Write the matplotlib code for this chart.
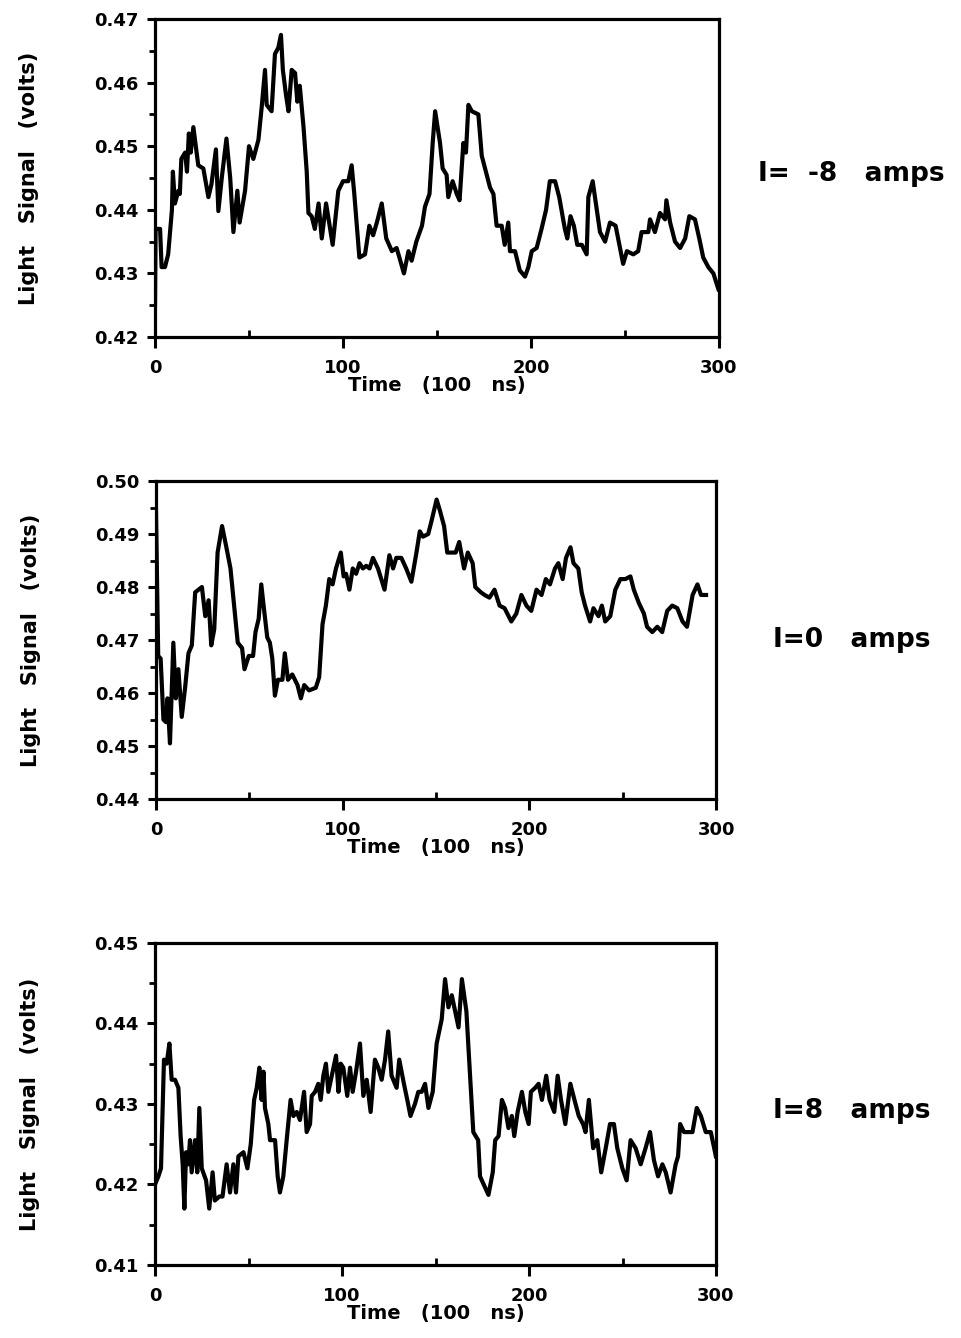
import matplotlib
matplotlib.use("Agg")
import matplotlib.pyplot as plt
from matplotlib.ticker import MultipleLocator, FormatStrFormatter

plt.rcParams["font.family"] = "DejaVu Sans"
plt.rcParams["font.weight"] = "bold"

# I = -8 amps
time_neg8 = [0, 0.3, 2.7, 3.5, 5.3, 7, 9, 9.5, 10.6, 12.4,
             13.2, 14, 16, 17, 18, 19, 20.4, 23, 25.7, 28.4,
             30, 32.4, 33.7, 35.5, 38, 40, 41.7, 43.8, 45, 47.9,
             50, 52.3, 55, 56.7, 58.5, 59.4, 62, 63.8, 65.6, 67,
             68, 69.7, 71, 72.7, 74.5, 75.7, 77, 79, 80.7, 81.6,
             83.3, 85, 87, 88.7, 91, 94.5, 97.5, 100, 102.8, 104.6,
             106, 108.7, 111.7, 114, 116, 118, 120.6, 123, 126, 128.5,
             130, 132.4, 134.8, 136.5, 139, 142, 143.6, 146, 147.7, 149,
             151.6, 153, 155.1, 156, 158.3, 160.5, 162, 164, 165.4, 166.7,
             168.5, 172, 173.8, 176, 178.2, 180, 181.7, 184.4, 186, 187.9,
             188.8, 191.5, 194, 196.8, 198.6, 200.4, 203, 205.6, 208, 210,
             212.8, 215, 218, 219.3, 221, 222.8, 224.6, 227, 229.6, 230.5,
             232.8, 235, 236.7, 239.4, 242, 245, 247.3, 249, 251, 254.4,
             257, 258.8, 262.4, 263.3, 265.9, 268.6, 271.3, 272, 274, 276.6,
             279.3, 282, 284.2, 287.2, 289.5, 291.6, 294.3, 297, 299.7]
signal_neg8 = [0.425, 0.437, 0.437, 0.431, 0.431, 0.433, 0.440, 0.446, 0.441, 0.443,
               0.4425, 0.448, 0.449, 0.446, 0.452, 0.449, 0.453, 0.447, 0.4465, 0.442,
               0.444, 0.4495, 0.4398, 0.445, 0.4512, 0.445, 0.4365, 0.443, 0.438, 0.443,
               0.450, 0.448, 0.451, 0.456, 0.462, 0.4565, 0.4555, 0.4645, 0.4655, 0.4675,
               0.462, 0.458, 0.4555, 0.462, 0.4615, 0.457, 0.4595, 0.453, 0.446, 0.4395,
               0.439, 0.437, 0.441, 0.4355, 0.441, 0.4345, 0.443, 0.4445, 0.4445, 0.447,
               0.4425, 0.4325, 0.433, 0.4375, 0.436, 0.438, 0.441, 0.4355, 0.4335, 0.434,
               0.4325, 0.430, 0.4335, 0.432, 0.435, 0.4375, 0.4405, 0.4425, 0.4505, 0.4555,
               0.4505, 0.4465, 0.4455, 0.442, 0.4445, 0.4425, 0.4415, 0.4505, 0.449, 0.4565,
               0.4555, 0.455, 0.4485, 0.446, 0.4435, 0.4425, 0.4375, 0.4375, 0.4345, 0.438,
               0.4335, 0.4335, 0.4305, 0.4295, 0.431, 0.4335, 0.434, 0.437, 0.440, 0.4445,
               0.4445, 0.442, 0.437, 0.4355, 0.439, 0.4375, 0.4345, 0.4345, 0.433, 0.442,
               0.4445, 0.440, 0.4365, 0.435, 0.438, 0.4375, 0.434, 0.4315, 0.4335, 0.433,
               0.4335, 0.4365, 0.4365, 0.4385, 0.4365, 0.4395, 0.4385, 0.4415, 0.438, 0.435,
               0.434, 0.4355, 0.439, 0.4385, 0.4355, 0.4325, 0.431, 0.430, 0.4275]

# I = 0 amps
time_zero = [0, 1.2, 2.5, 4, 5.4, 6.2, 7.5, 9.3, 10.6, 12,
             13.8, 15.6, 17.4, 19.2, 21, 22.8, 24.6, 26.4, 28.2, 29.6,
             31.2, 33, 35.4, 37.7, 39.9, 42, 43.8, 46.1, 47.4, 49.7,
             52, 53.3, 55, 56.4, 57.8, 59.6, 61, 62.3, 63.7, 65.3,
             67.7, 69, 70.7, 73, 75.8, 77.6, 79.4, 82, 85.6, 87.4,
             89.2, 91, 92.8, 94.6, 96.4, 99, 100.5, 101.8, 103.6, 105.4,
             107.2, 109, 110.8, 112.6, 114.4, 116.2, 118.9, 122.4, 125, 127,
             128.7, 131.4, 134, 136.8, 139.5, 141.3, 143, 145.8, 147.6, 150.3,
             152, 154.3, 156, 158.8, 160.5, 162.4, 165, 167, 169.6, 171,
             174, 176, 178.6, 181.3, 184, 186.7, 190.3, 193, 195.7, 198.4,
             201, 203.8, 206.5, 208.8, 211, 213.7, 215.5, 217.8, 219.6, 222,
             223.6, 226.2, 228, 229.8, 232.5, 234.3, 237, 238.8, 240.6, 243.3,
             246, 248.7, 251.4, 254.1, 255.9, 258.6, 261.3, 263, 265.8, 268.5,
             271.1, 273.8, 276.5, 279.2, 282, 284.4, 287.4, 290, 291.9, 294.6]
signal_zero = [0.4945, 0.467, 0.4665, 0.455, 0.4545, 0.459, 0.4505, 0.4695, 0.459, 0.4645,
               0.4555, 0.461, 0.4675, 0.469, 0.479, 0.4795, 0.480, 0.4745, 0.4775, 0.469,
               0.472, 0.4865, 0.4915, 0.4875, 0.4835, 0.476, 0.4695, 0.4685, 0.4645, 0.467,
               0.467, 0.4715, 0.474, 0.4805, 0.476, 0.4705, 0.4695, 0.4665, 0.4595, 0.4625,
               0.4625, 0.4675, 0.4625, 0.4635, 0.4615, 0.459, 0.4615, 0.4605, 0.461, 0.463,
               0.473, 0.4765, 0.4815, 0.4805, 0.4835, 0.4865, 0.482, 0.4825, 0.4795, 0.4835,
               0.4825, 0.4845, 0.4835, 0.484, 0.4835, 0.4855, 0.4835, 0.4795, 0.486, 0.4835,
               0.4855, 0.4855, 0.4835, 0.481, 0.4865, 0.4905, 0.4895, 0.490, 0.4925, 0.4965,
               0.4945, 0.4915, 0.4865, 0.4865, 0.4865, 0.4885, 0.4835, 0.4865, 0.4845, 0.480,
               0.479, 0.4785, 0.478, 0.4795, 0.4765, 0.476, 0.4735, 0.475, 0.4785, 0.4765,
               0.4755, 0.4795, 0.4785, 0.4815, 0.4805, 0.4835, 0.4845, 0.4815, 0.4855, 0.4875,
               0.4845, 0.4835, 0.479, 0.4765, 0.4735, 0.476, 0.4745, 0.4765, 0.4735, 0.4745,
               0.4795, 0.4815, 0.4815, 0.482, 0.4795, 0.477, 0.475, 0.4725, 0.4715, 0.4725,
               0.4715, 0.4755, 0.4765, 0.476, 0.4735, 0.4725, 0.4785, 0.4805, 0.4785, 0.4785]

# I = 8 amps
time_pos8 = [0, 1.8, 3.2, 4.8, 6.2, 7.7, 8.9, 10.7, 12.5, 13.7,
             14.8, 15.7, 16.6, 17.8, 18.7, 19.6, 21.4, 22.6, 23.7, 25,
             27.3, 29, 30.8, 32, 34.4, 36.1, 38.3, 40.1, 41.9, 43.3,
             44.6, 47.3, 49.4, 51.2, 53, 54.4, 55.8, 57, 58, 58.8,
             60.6, 61.5, 64.2, 65.6, 66.8, 68.6, 70.4, 72.5, 74, 75.8,
             77.5, 79.7, 81.1, 82.9, 83.8, 85.6, 87.3, 88.6, 90, 91.4,
             92.7, 95.4, 96.8, 98.1, 99.3, 100.7, 102.8, 104.3, 105.7, 107.5,
             109.6, 111.4, 113.2, 115.3, 117.6, 119.4, 121.2, 123, 124.7, 126.5,
             129.2, 130.6, 133.1, 134.9, 136.6, 139, 140.8, 142.6, 144.4, 146.2,
             148.5, 150.6, 153.3, 155.1, 156.9, 158.7, 160.5, 162.3, 164.1, 166.5,
             170.2, 172.8, 173.8, 178.3, 180.6, 181.9, 183.7, 185.5, 187.2, 189,
             190.8, 192.1, 193.9, 196.2, 198, 199.8, 201, 203.3, 205.1, 206.9,
             209.2, 211, 213.5, 215.3, 217.1, 219.4, 222.1, 224.3, 226.6, 228.9,
             230.2, 232, 234.3, 236.5, 238.6, 241, 243.3, 245.4, 247.2, 249.9,
             252.2, 254.3, 257, 259.7, 262.3, 264.7, 266.8, 269, 271.3, 273.1,
             275.7, 278.4, 279.7, 280.8, 282.9, 285.6, 287.4, 289.7, 291.9, 294.5,
             297.2, 299.9]
signal_pos8 = [0.420, 0.421, 0.422, 0.4355, 0.435, 0.4375, 0.433, 0.433, 0.432, 0.426,
               0.4225, 0.417, 0.424, 0.4225, 0.4255, 0.4215, 0.4255, 0.4215, 0.4295, 0.422,
               0.4205, 0.417, 0.4215, 0.418, 0.4185, 0.4185, 0.4225, 0.419, 0.4225, 0.419,
               0.4235, 0.424, 0.422, 0.425, 0.4305, 0.432, 0.4345, 0.4305, 0.434, 0.4295,
               0.4275, 0.4255, 0.4255, 0.421, 0.419, 0.421, 0.4255, 0.4305, 0.4285, 0.429,
               0.428, 0.4315, 0.4265, 0.4275, 0.431, 0.4315, 0.4325, 0.4305, 0.4335, 0.435,
               0.4315, 0.4345, 0.436, 0.4315, 0.435, 0.4345, 0.431, 0.4345, 0.4315, 0.434,
               0.4375, 0.431, 0.433, 0.429, 0.4355, 0.4345, 0.433, 0.4355, 0.439, 0.4335,
               0.432, 0.4355, 0.4325, 0.4305, 0.4285, 0.430, 0.4315, 0.4315, 0.4325, 0.4295,
               0.4315, 0.4375, 0.4405, 0.4455, 0.442, 0.4435, 0.4415, 0.4395, 0.4455, 0.4415,
               0.4265, 0.4255, 0.421, 0.4187, 0.4215, 0.4255, 0.426, 0.4305, 0.4295, 0.427,
               0.4285, 0.426, 0.429, 0.4315, 0.429, 0.4275, 0.4315, 0.432, 0.4325, 0.4305,
               0.4335, 0.4305, 0.429, 0.4335, 0.4305, 0.4275, 0.4325, 0.4305, 0.4285, 0.4275,
               0.4265, 0.4305, 0.4245, 0.4255, 0.4215, 0.4245, 0.4275, 0.4275, 0.4245, 0.422,
               0.4205, 0.4255, 0.4245, 0.4225, 0.4245, 0.4265, 0.423, 0.421, 0.4225, 0.4215,
               0.419, 0.4225, 0.4235, 0.4275, 0.4265, 0.4265, 0.4265, 0.4295, 0.4285, 0.4265,
               0.4265, 0.4235]

# (time, signal, y range, right-hand label, axes rect, label x, label y)
panels = [
    (time_neg8, signal_neg8, (0.42, 0.47), "I=  -8   amps", [0.1613, 0.7481, 0.5869, 0.2377], 0.789, 0.870),
    (time_zero, signal_zero, (0.44, 0.50), "I=0   amps", [0.1623, 0.4028, 0.5829, 0.2377], 0.804, 0.522),
    (time_pos8, signal_pos8, (0.41, 0.45), "I=8   amps", [0.1613, 0.0546, 0.5838, 0.2407], 0.804, 0.170),
]

fig = plt.figure(figsize=(9.61, 13.38), dpi=100)

for t, s, ylim, label, pos, label_x, label_y in panels:
    ax = fig.add_axes(pos)
    ax.plot(t, s, color="black", linewidth=3.0, solid_joinstyle="round")
    ax.set_xlim(0, 300)
    ax.set_ylim(*ylim)
    ax.xaxis.set_major_locator(MultipleLocator(100))
    ax.xaxis.set_minor_locator(MultipleLocator(50))
    ax.yaxis.set_major_locator(MultipleLocator(0.01))
    ax.yaxis.set_minor_locator(MultipleLocator(0.005))
    ax.yaxis.set_major_formatter(FormatStrFormatter("%.2f"))
    for sp in ax.spines.values():
        sp.set_linewidth(2.3)
    ax.tick_params(axis="both", which="major", direction="out", length=6, width=2.2,
                   labelsize=13, pad=6)
    ax.tick_params(axis="x", which="major", length=8, pad=8)
    ax.tick_params(axis="x", which="minor", direction="in", length=5, width=2)
    ax.tick_params(axis="y", which="minor", direction="out", length=4, width=2)
    for lab in ax.get_xticklabels() + ax.get_yticklabels():
        lab.set_fontweight("bold")
    ax.set_xlabel("Time   (100   ns)", fontsize=14, fontweight="bold", labelpad=-1)
    ax.set_ylabel("Light   Signal   (volts)", fontsize=15, fontweight="bold")
    ax.yaxis.set_label_coords(-0.205, 0.5)
    fig.text(label_x, label_y, label, fontsize=19, fontweight="bold", ha="left", va="center")

fig.savefig("out.png", dpi=100)
